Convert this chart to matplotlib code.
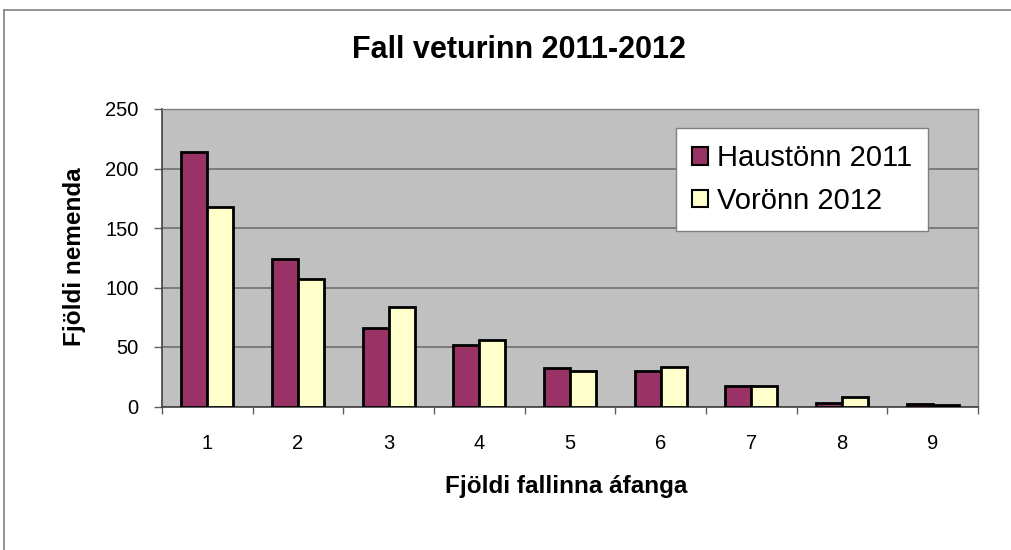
import numpy as np
import matplotlib.pyplot as plt
from matplotlib.lines import Line2D

plt.rcParams['font.family'] = ['Liberation Sans', 'DejaVu Sans']

# Data
flokkar = ['1', '2', '3', '4', '5', '6', '7', '8', '9']
haust_2011 = [214, 124, 66, 52, 32, 30, 17, 3, 2]
vor_2012 = [168, 107, 84, 56, 30, 33, 17, 8, 1]
y_ticks = [0, 50, 100, 150, 200, 250]

W, H = 1011, 550
fig = plt.figure(figsize=(W / 100, H / 100), dpi=100)
ax = fig.add_axes([162 / W, 1 - 406.5 / H, 816 / W, 297.5 / H])

x = np.arange(len(flokkar))
w = 0.287
ax.bar(x - w / 2, haust_2011, w, color='#993366', edgecolor='black', linewidth=2,
       label='Haustönn 2011', zorder=3)
ax.bar(x + w / 2, vor_2012, w, color='#FFFFCC', edgecolor='black', linewidth=2,
       label='Vorönn 2012', zorder=3)

ax.set_facecolor('#C0C0C0')
ax.set_xlim(-0.5, len(flokkar) - 0.5)
ax.set_ylim(0, 250)
ax.set_yticks(y_ticks)
ax.set_yticklabels([str(v) for v in y_ticks], fontsize=14.5)
ax.yaxis.grid(True, color='#707070', linewidth=1.2, zorder=1)
ax.set_axisbelow(True)

# categories labelled in the middle, ticks on the boundaries
ax.set_xticks(x)
ax.set_xticklabels(flokkar, fontsize=14.5)
ax.tick_params(axis='x', which='major', length=0, pad=20)
ax.set_xticks(np.arange(-0.5, len(flokkar)), minor=True)
ax.tick_params(axis='x', which='minor', length=5, color='#606060', width=1)
ax.tick_params(axis='y', length=6, color='#606060', width=1, pad=11)

for s in ['top', 'right']:
    ax.spines[s].set_color('#808080')
    ax.spines[s].set_linewidth(1)
for s in ['left', 'bottom']:
    ax.spines[s].set_color('#404040')
    ax.spines[s].set_linewidth(1.2)

fig.text(519 / W, 1 - 50 / H, 'Fall veturinn 2011-2012', fontsize=22,
         fontweight='bold', ha='center', va='center')
fig.text(75 / W, 1 - 257 / H, 'Fjöldi nemenda', fontsize=17.5, fontweight='bold',
         rotation=90, ha='center', va='center')
fig.text(566 / W, 1 - 487 / H, 'Fjöldi fallinna áfanga', fontsize=17.5,
         fontweight='bold', ha='center', va='center')

leg = ax.legend(loc='upper right', bbox_to_anchor=((928 - 162) / 816, (406.5 - 128) / 297.5),
                fontsize=21, frameon=True, fancybox=False, shadow=False,
                handlelength=0.55, handleheight=0.55, handletextpad=0.3,
                borderpad=0.55, labelspacing=0.5, borderaxespad=0)
leg.get_frame().set_edgecolor('#808080')
leg.get_frame().set_facecolor('white')
leg.get_frame().set_alpha(1)
leg.get_frame().set_linewidth(1)
for p in leg.get_patches():
    p.set_linewidth(1.5)

# outer chart frame
fig.add_artist(Line2D([4 / W, 4 / W], [0, 1 - 10 / H], color='#808080',
                      linewidth=1.2, transform=fig.transFigure))
fig.add_artist(Line2D([4 / W, 1], [1 - 10 / H, 1 - 10 / H], color='#808080',
                      linewidth=1.2, transform=fig.transFigure))

fig.savefig('out.png', dpi=100)
